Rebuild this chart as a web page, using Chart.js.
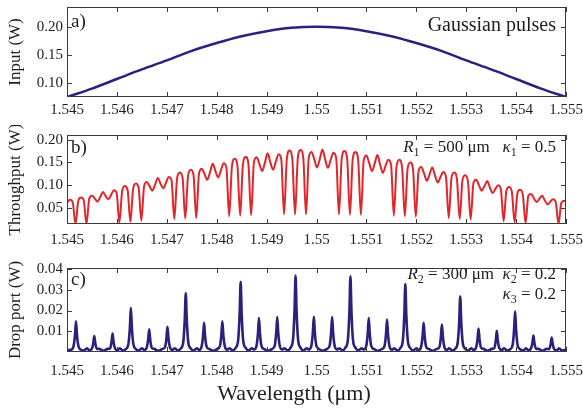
<!DOCTYPE html>
<html>
<head>
<meta charset="utf-8">
<script src="https://cdn.jsdelivr.net/npm/chart.js@4.4.1/dist/chart.umd.min.js"></script>
<style>
  html, body { margin: 0; padding: 0; background: #fff; }
  #wrap { position: relative; width: 583px; height: 409px; overflow: hidden; background: #fff; }
  canvas { position: absolute; left: 0; }
</style>
</head>
<body>
<div id="wrap">
  <canvas id="input-chart" width="583" height="125" style="top:0"></canvas>
  <canvas id="through-chart" width="583" height="130" style="top:125px"></canvas>
  <canvas id="drop-chart" width="583" height="154" style="top:255px"></canvas>
</div>
<script>
// Eixo X comum (comprimento de onda em µm)
const xTicks = [1.545, 1.546, 1.547, 1.548, 1.549, 1.55, 1.551, 1.552, 1.553, 1.554, 1.555];
const xTickLabels = ["1.545", "1.546", "1.547", "1.548", "1.549", "1.55", "1.551", "1.552", "1.553", "1.554", "1.555"];

// a) Input
const inputTicks = [0.10, 0.15, 0.20];
const inputTickLabels = ["0.10", "0.15", "0.20"];
const inputWl = [1.545, 1.5455, 1.546, 1.5465, 1.547, 1.5475, 1.548, 1.5485, 1.549, 1.5495, 1.55,
    1.5505, 1.551, 1.5515, 1.552, 1.5525, 1.553, 1.5535, 1.554, 1.5545, 1.555];
const inputW = [0.075, 0.090, 0.107, 0.124, 0.140, 0.157, 0.171, 0.183, 0.192, 0.198, 0.200,
    0.198, 0.192, 0.183, 0.171, 0.157, 0.140, 0.124, 0.107, 0.090, 0.075];

// b) Throughput
const throughTicks = [0.05, 0.10, 0.15, 0.20];
const throughTickLabels = ["0.05", "0.10", "0.15", "0.20"];
const throughWl = [
    1.545005, 1.545060, 1.545115, 1.545170, 1.545225, 1.545280, 1.545335, 1.545390, 1.545445, 1.545500,
    1.545555, 1.545610, 1.545665, 1.545720, 1.545775, 1.545830, 1.545885, 1.545940, 1.545995, 1.546050,
    1.546105, 1.546160, 1.546215, 1.546270, 1.546325, 1.546380, 1.546435, 1.546490, 1.546545, 1.546600,
    1.546655, 1.546710, 1.546765, 1.546820, 1.546875, 1.546930, 1.546985, 1.547040, 1.547095, 1.547150,
    1.547205, 1.547260, 1.547315, 1.547370, 1.547425, 1.547480, 1.547535, 1.547590, 1.547645, 1.547700,
    1.547755, 1.547810, 1.547865, 1.547920, 1.547975, 1.548030, 1.548085, 1.548140, 1.548195, 1.548250,
    1.548305, 1.548360, 1.548415, 1.548470, 1.548525, 1.548580, 1.548635, 1.548690, 1.548745, 1.548800,
    1.548855, 1.548910, 1.548965, 1.549020, 1.549075, 1.549130, 1.549185, 1.549240, 1.549295, 1.549350,
    1.549405, 1.549460, 1.549515, 1.549570, 1.549625, 1.549680, 1.549735, 1.549790, 1.549845, 1.549900,
    1.549955, 1.550010, 1.550065, 1.550120, 1.550175, 1.550230, 1.550285, 1.550340, 1.550395, 1.550450,
    1.550505, 1.550560, 1.550615, 1.550670, 1.550725, 1.550780, 1.550835, 1.550890, 1.550945, 1.551000,
    1.551055, 1.551110, 1.551165, 1.551220, 1.551275, 1.551330, 1.551385, 1.551440, 1.551495, 1.551550,
    1.551605, 1.551660, 1.551715, 1.551770, 1.551825, 1.551880, 1.551935, 1.551990, 1.552045, 1.552100,
    1.552155, 1.552210, 1.552265, 1.552320, 1.552375, 1.552430, 1.552485, 1.552540, 1.552595, 1.552650,
    1.552705, 1.552760, 1.552815, 1.552870, 1.552925, 1.552980, 1.553035, 1.553090, 1.553145, 1.553200,
    1.553255, 1.553310, 1.553365, 1.553420, 1.553475, 1.553530, 1.553585, 1.553640, 1.553695, 1.553750,
    1.553805, 1.553860, 1.553915, 1.553970, 1.554025, 1.554080, 1.554135, 1.554190, 1.554245, 1.554300,
    1.554355, 1.554410, 1.554465, 1.554520, 1.554575, 1.554630, 1.554685, 1.554740, 1.554795, 1.554850,
    1.554905, 1.554960, 1.555015
];
const throughW = [
    0.062, 0.068, 0.062, 0.015, 0.065, 0.073, 0.067, 0.015, 0.070, 0.077,
    0.071, 0.064, 0.074, 0.085, 0.076, 0.069, 0.079, 0.089, 0.083, 0.018,
    0.087, 0.098, 0.089, 0.020, 0.092, 0.104, 0.095, 0.022, 0.098, 0.107,
    0.098, 0.088, 0.101, 0.116, 0.103, 0.093, 0.106, 0.118, 0.111, 0.026,
    0.114, 0.128, 0.117, 0.027, 0.120, 0.134, 0.123, 0.028, 0.125, 0.136,
    0.125, 0.112, 0.128, 0.147, 0.131, 0.117, 0.133, 0.148, 0.138, 0.032,
    0.141, 0.158, 0.143, 0.033, 0.145, 0.162, 0.147, 0.034, 0.149, 0.161,
    0.147, 0.131, 0.149, 0.170, 0.150, 0.134, 0.152, 0.168, 0.156, 0.036,
    0.157, 0.176, 0.158, 0.036, 0.159, 0.177, 0.160, 0.036, 0.160, 0.173,
    0.157, 0.139, 0.157, 0.178, 0.156, 0.138, 0.156, 0.171, 0.159, 0.036,
    0.158, 0.175, 0.157, 0.035, 0.156, 0.173, 0.155, 0.035, 0.154, 0.165,
    0.149, 0.131, 0.147, 0.166, 0.145, 0.127, 0.143, 0.156, 0.144, 0.033,
    0.142, 0.156, 0.139, 0.032, 0.136, 0.150, 0.134, 0.031, 0.131, 0.140,
    0.126, 0.110, 0.123, 0.139, 0.121, 0.106, 0.118, 0.129, 0.118, 0.028,
    0.116, 0.128, 0.113, 0.026, 0.111, 0.122, 0.108, 0.025, 0.105, 0.112,
    0.100, 0.088, 0.098, 0.109, 0.095, 0.083, 0.092, 0.100, 0.091, 0.021,
    0.088, 0.096, 0.085, 0.019, 0.082, 0.090, 0.079, 0.017, 0.077, 0.081,
    0.072, 0.063, 0.070, 0.077, 0.067, 0.058, 0.064, 0.069, 0.063, 0.015,
    0.061, 0.066, 0.062
];

// c) Drop port
const dropTicks = [0.01, 0.02, 0.03, 0.04];
const dropTickLabels = ["0.01", "0.02", "0.03", "0.04"];
const dropWl = [
    1.545000,
    1.545080, 1.545130, 1.545160, 1.545180, 1.545200, 1.545230, 1.545280, 1.545340, 1.545400,
    1.545447, 1.545497, 1.545527, 1.545547, 1.545567, 1.545597, 1.545647, 1.545730,
    1.545813, 1.545863, 1.545893, 1.545913, 1.545933, 1.545963, 1.546013, 1.546060, 1.546120,
    1.546180, 1.546230, 1.546260, 1.546280, 1.546300, 1.546330, 1.546380, 1.546440, 1.546500,
    1.546547, 1.546597, 1.546627, 1.546647, 1.546667, 1.546697, 1.546747, 1.546830,
    1.546913, 1.546963, 1.546993, 1.547013, 1.547033, 1.547063, 1.547113, 1.547160, 1.547220,
    1.547280, 1.547330, 1.547360, 1.547380, 1.547400, 1.547430, 1.547480, 1.547540, 1.547600,
    1.547647, 1.547697, 1.547727, 1.547747, 1.547767, 1.547797, 1.547847, 1.547930,
    1.548013, 1.548063, 1.548093, 1.548113, 1.548133, 1.548163, 1.548213, 1.548260, 1.548320,
    1.548380, 1.548430, 1.548460, 1.548480, 1.548500, 1.548530, 1.548580, 1.548640, 1.548700,
    1.548747, 1.548797, 1.548827, 1.548847, 1.548867, 1.548897, 1.548947, 1.549030,
    1.549113, 1.549163, 1.549193, 1.549213, 1.549233, 1.549263, 1.549313, 1.549360, 1.549420,
    1.549480, 1.549530, 1.549560, 1.549580, 1.549600, 1.549630, 1.549680, 1.549740, 1.549800,
    1.549847, 1.549897, 1.549927, 1.549947, 1.549967, 1.549997, 1.550047, 1.550130,
    1.550213, 1.550263, 1.550293, 1.550313, 1.550333, 1.550363, 1.550413, 1.550460, 1.550520,
    1.550580, 1.550630, 1.550660, 1.550680, 1.550700, 1.550730, 1.550780, 1.550840, 1.550900,
    1.550947, 1.550997, 1.551027, 1.551047, 1.551067, 1.551097, 1.551147, 1.551230,
    1.551313, 1.551363, 1.551393, 1.551413, 1.551433, 1.551463, 1.551513, 1.551560, 1.551620,
    1.551680, 1.551730, 1.551760, 1.551780, 1.551800, 1.551830, 1.551880, 1.551940, 1.552000,
    1.552047, 1.552097, 1.552127, 1.552147, 1.552167, 1.552197, 1.552247, 1.552330,
    1.552413, 1.552463, 1.552493, 1.552513, 1.552533, 1.552563, 1.552613, 1.552660, 1.552720,
    1.552780, 1.552830, 1.552860, 1.552880, 1.552900, 1.552930, 1.552980, 1.553040, 1.553100,
    1.553147, 1.553197, 1.553227, 1.553247, 1.553267, 1.553297, 1.553347, 1.553430,
    1.553513, 1.553563, 1.553593, 1.553613, 1.553633, 1.553663, 1.553713, 1.553760, 1.553820,
    1.553880, 1.553930, 1.553960, 1.553980, 1.554000, 1.554030, 1.554080, 1.554140, 1.554200,
    1.554247, 1.554297, 1.554327, 1.554347, 1.554367, 1.554397, 1.554447, 1.554530,
    1.554613, 1.554663, 1.554693, 1.554713, 1.554733, 1.554763, 1.554813, 1.554860, 1.554920,
    1.555000
];
const dropW = [
    0.0009,
    0.0011, 0.0027, 0.0081, 0.0148, 0.0081, 0.0027, 0.0011, 0.0007, 0.0018,
    0.0008, 0.0015, 0.0042, 0.0077, 0.0042, 0.0015, 0.0015, 0.0006,
    0.0015, 0.0017, 0.0049, 0.0089, 0.0049, 0.0017, 0.0008, 0.0018, 0.0007,
    0.0014, 0.0037, 0.0117, 0.0213, 0.0117, 0.0037, 0.0014, 0.0007, 0.0018,
    0.0009, 0.0021, 0.0061, 0.0110, 0.0061, 0.0021, 0.0015, 0.0006,
    0.0015, 0.0022, 0.0067, 0.0121, 0.0067, 0.0022, 0.0010, 0.0018, 0.0007,
    0.0017, 0.0048, 0.0156, 0.0283, 0.0156, 0.0048, 0.0017, 0.0007, 0.0018,
    0.0010, 0.0026, 0.0078, 0.0141, 0.0078, 0.0026, 0.0015, 0.0006,
    0.0015, 0.0027, 0.0081, 0.0148, 0.0081, 0.0027, 0.0011, 0.0018, 0.0007,
    0.0020, 0.0057, 0.0186, 0.0339, 0.0186, 0.0057, 0.0020, 0.0007, 0.0018,
    0.0012, 0.0029, 0.0090, 0.0164, 0.0090, 0.0029, 0.0015, 0.0006,
    0.0015, 0.0030, 0.0093, 0.0169, 0.0093, 0.0030, 0.0012, 0.0018, 0.0007,
    0.0021, 0.0062, 0.0202, 0.0368, 0.0202, 0.0062, 0.0021, 0.0007, 0.0018,
    0.0012, 0.0030, 0.0094, 0.0170, 0.0094, 0.0030, 0.0015, 0.0006,
    0.0015, 0.0030, 0.0093, 0.0169, 0.0093, 0.0030, 0.0012, 0.0018, 0.0007,
    0.0021, 0.0061, 0.0201, 0.0365, 0.0201, 0.0061, 0.0021, 0.0007, 0.0018,
    0.0012, 0.0029, 0.0090, 0.0164, 0.0090, 0.0029, 0.0015, 0.0006,
    0.0015, 0.0028, 0.0086, 0.0157, 0.0086, 0.0028, 0.0011, 0.0018, 0.0007,
    0.0019, 0.0055, 0.0180, 0.0328, 0.0180, 0.0055, 0.0019, 0.0007, 0.0018,
    0.0010, 0.0026, 0.0078, 0.0141, 0.0078, 0.0026, 0.0015, 0.0006,
    0.0015, 0.0024, 0.0073, 0.0132, 0.0073, 0.0024, 0.0010, 0.0018, 0.0007,
    0.0016, 0.0046, 0.0147, 0.0267, 0.0147, 0.0046, 0.0016, 0.0007, 0.0018,
    0.0009, 0.0021, 0.0062, 0.0113, 0.0062, 0.0021, 0.0015, 0.0006,
    0.0015, 0.0019, 0.0056, 0.0102, 0.0056, 0.0019, 0.0009, 0.0018, 0.0007,
    0.0013, 0.0034, 0.0108, 0.0196, 0.0108, 0.0034, 0.0013, 0.0007, 0.0018,
    0.0008, 0.0016, 0.0043, 0.0079, 0.0043, 0.0016, 0.0015, 0.0006,
    0.0015, 0.0014, 0.0039, 0.0070, 0.0039, 0.0014, 0.0007, 0.0018, 0.0007,
    0.0011
];

const SERIF = "'Liberation Serif', 'Times New Roman', serif";
const TEXT_COLOR = "#1e1e1e";
const FRAME_COLOR = "#3a3a3a";

function toPoints(xs, ys) {
    return xs.map((x, i) => ({ x: x, y: ys[i] }));
}

// Moldura + ticks para dentro nos quatro lados
const framePlugin = {
    id: "frame",
    afterDraw(chart) {
        const { ctx, chartArea: a, scales } = chart;
        const len = 5;
        ctx.save();
        ctx.strokeStyle = FRAME_COLOR;
        ctx.lineWidth = 1;
        ctx.beginPath();
        scales.x.ticks.forEach(t => {
            const px = Math.round(scales.x.getPixelForValue(t.value)) + 0.5;
            ctx.moveTo(px, a.bottom); ctx.lineTo(px, a.bottom - len);
            ctx.moveTo(px, a.top); ctx.lineTo(px, a.top + len);
        });
        scales.y.ticks.forEach(t => {
            const py = Math.round(scales.y.getPixelForValue(t.value)) + 0.5;
            ctx.moveTo(a.left, py); ctx.lineTo(a.left + len, py);
            ctx.moveTo(a.right, py); ctx.lineTo(a.right - len, py);
        });
        ctx.stroke();
        ctx.strokeRect(Math.round(a.left) + 0.5, Math.round(a.top) + 0.5,
            Math.round(a.width) - 1, Math.round(a.height) - 1);
        ctx.restore();
    }
};

// Texto com partes em itálico / subscrito
function drawRuns(ctx, runs, x, y, align) {
    let total = 0;
    runs.forEach(r => { ctx.font = r.font; total += ctx.measureText(r.text).width; });
    let cx = align === "right" ? x - total : (align === "center" ? x - total / 2 : x);
    runs.forEach(r => {
        ctx.font = r.font;
        ctx.fillText(r.text, cx, y + (r.dy || 0));
        cx += ctx.measureText(r.text).width;
    });
}

function notesPlugin(notes) {
    return {
        id: "notes",
        afterDraw(chart) {
            const ctx = chart.ctx;
            ctx.save();
            ctx.fillStyle = TEXT_COLOR;
            ctx.textBaseline = "alphabetic";
            notes.forEach(n => drawRuns(ctx, n.runs, n.x, n.y, n.align));
            ctx.restore();
        }
    };
}

function plain(text, size) { return { text: text, font: size + "px " + SERIF }; }
function ital(text, size) { return { text: text, font: "italic " + size + "px " + SERIF }; }
function sub(text, size) { return { text: text, font: size + "px " + SERIF, dy: 4 }; }

function panelConfig(p) {
    return {
        type: "line",
        data: {
            datasets: [{
                data: p.points,
                borderColor: p.color,
                borderWidth: p.lineWidth,
                pointRadius: 0,
                fill: false,
                cubicInterpolationMode: "monotone"
            }]
        },
        options: {
            responsive: false,
            animation: false,
            events: [],
            layout: { padding: { left: 0, right: 17, top: p.top, bottom: 0 } },
            plugins: {
                legend: { display: false },
                tooltip: { enabled: false }
            },
            scales: {
                x: {
                    type: "linear",
                    min: 1.545,
                    max: 1.555,
                    afterBuildTicks: s => { s.ticks = xTicks.map(v => ({ value: v })); },
                    afterFit: s => {
                        s.height = p.xHeight;
                        s.paddingLeft = 0;
                        s.paddingRight = 0;
                    },
                    grid: { display: false, drawTicks: false },
                    border: { display: false },
                    ticks: {
                        autoSkip: false,
                        maxRotation: 0,
                        padding: p.xPad,
                        color: TEXT_COLOR,
                        font: { family: SERIF, size: 15 },
                        callback: (v, i) => xTickLabels[i]
                    }
                },
                y: {
                    type: "linear",
                    min: p.yMin,
                    max: p.yMax,
                    afterBuildTicks: s => { s.ticks = p.yTicks.map(v => ({ value: v })); },
                    afterFit: s => {
                        s.width = 67;
                        s.paddingTop = 0;
                        s.paddingBottom = 0;
                    },
                    grid: { display: false, drawTicks: false },
                    border: { display: false },
                    title: {
                        display: true,
                        text: p.yTitle,
                        color: TEXT_COLOR,
                        font: { family: SERIF, size: 17 },
                        padding: { top: 5, bottom: 0 }
                    },
                    ticks: {
                        padding: 4,
                        color: TEXT_COLOR,
                        font: { family: SERIF, size: 15 },
                        callback: (v, i) => p.yTickLabels[i]
                    }
                }
            }
        },
        plugins: [framePlugin, notesPlugin(p.notes)]
    };
}

new Chart(document.getElementById("input-chart"), panelConfig({
    points: toPoints(inputWl, inputW),
    color: "#2f1f7c",
    lineWidth: 2.5,
    top: 7, xHeight: 28, xPad: 4,
    yMin: 0.075, yMax: 0.235,
    yTicks: inputTicks, yTickLabels: inputTickLabels,
    yTitle: "Input (W)",
    notes: [
        { x: 71, y: 27, align: "left", runs: [plain("a)", 19)] },
        { x: 556, y: 31, align: "right", runs: [plain("Gaussian pulses", 20)] }
    ]
}));

new Chart(document.getElementById("through-chart"), panelConfig({
    points: toPoints(throughWl, throughW),
    color: "#e1262b",
    lineWidth: 2,
    top: 10, xHeight: 31, xPad: 7,
    yMin: 0.015, yMax: 0.21,
    yTicks: throughTicks, yTickLabels: throughTickLabels,
    yTitle: "Throughput (W)",
    notes: [
        { x: 71, y: 28, align: "left", runs: [plain("b)", 19)] },
        { x: 556, y: 27, align: "right", runs: [
            ital("R", 17), sub("1", 12), plain(" = 500 μm   ", 17),
            ital("κ", 17), sub("1", 12), plain(" = 0.5", 17)
        ] }
    ]
}));

new Chart(document.getElementById("drop-chart"), panelConfig({
    points: toPoints(dropWl, dropW),
    color: "#2f1f7c",
    lineWidth: 2.6,
    top: 13, xHeight: 57, xPad: 10,
    yMin: 0, yMax: 0.0405,
    yTicks: dropTicks, yTickLabels: dropTickLabels,
    yTitle: "Drop port (W)",
    notes: [
        { x: 71, y: 30, align: "left", runs: [plain("c)", 19)] },
        { x: 556, y: 24, align: "right", runs: [
            ital("R", 17), sub("2", 12), plain(" = 300 μm  ", 17),
            ital("κ", 17), sub("2", 12), plain(" = 0.2", 17)
        ] },
        { x: 556, y: 44, align: "right", runs: [ital("κ", 17), sub("3", 12), plain(" = 0.2", 17)] },
        { x: 294, y: 145, align: "center", runs: [plain("Wavelength (μm)", 22)] }
    ]
}));
</script>
</body>
</html>
